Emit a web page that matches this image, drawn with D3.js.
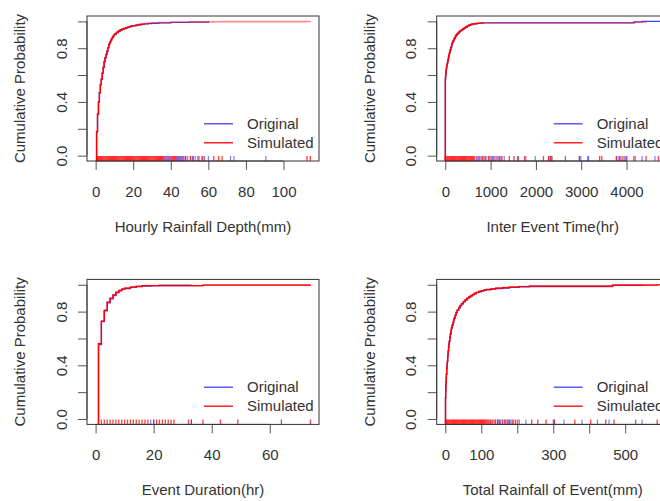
<!DOCTYPE html>
<html><head><meta charset="utf-8">
<script src="https://cdn.jsdelivr.net/npm/d3@7"></script>
<style>
body{margin:0;background:#fff}
svg{display:block}
text{font-family:"Liberation Sans",Arial,Helvetica,sans-serif}
</style>
</head><body>
<svg id="chart" width="660" height="501"></svg>
<script>
// ---------- shared ----------
const yTicks = [0, 0.2, 0.4, 0.6, 0.8, 1.0];
const yTickLabels = ["0.0", "", "0.4", "", "0.8", ""];
const yTitle = "Cumulative Probability";
const legendLabels = ["Original", "Simulated"];

// ---------- panel 1: hourly rainfall depth ----------
const depthTitle = "Hourly Rainfall Depth(mm)";
const depthDomain = [-4.6, 118.9];
const depthTicks = [0, 20, 40, 60, 80, 100];
const depthTickLabels = ["0", "20", "40", "60", "80", "100"];
const depthOrigX = [0.5,1,1.5,2,2.5,3,3.5,4,4.5,5,5.5,6,6.5,7,7.5,8,8.5,9,9.5,10,11,12,13,14,15,16,17,18,19,20,21.5,23,24.5,26,28,30,33.5,40,50,60];
const depthOrigP = [0.178,0.308,0.398,0.468,0.528,0.568,0.613,0.656,0.698,0.728,0.753,0.777,0.803,0.827,0.843,0.858,0.871,0.883,0.893,0.903,0.916,0.925,0.934,0.94,0.946,0.951,0.956,0.96,0.964,0.967,0.971,0.975,0.978,0.981,0.984,0.986,0.989,0.993,0.995,1.0];
const depthSimX = [0.5,1,1.5,2,2.5,3,3.5,4,4.5,5,5.5,6,6.5,7,7.5,8,8.5,9,9.5,10,11,12,13,14,15,16,17,18,19,20,21.5,23,24.5,26,28,30,33.5,40,50,62.9,67.3,112.5,114.3];
const depthSimP = [0.18,0.31,0.40,0.47,0.53,0.57,0.615,0.658,0.70,0.73,0.755,0.78,0.805,0.83,0.845,0.86,0.873,0.885,0.896,0.905,0.918,0.928,0.936,0.942,0.948,0.953,0.958,0.962,0.966,0.969,0.973,0.977,0.98,0.983,0.986,0.988,0.991,0.994,0.996,0.997,0.998,0.999,1.0];
const depthSimCoreEnd = 27;
const depthOrigRug = [36.5,37.5,38,39,40,40.5,41.5,42.5,43,44,45,45.5,46.5,47,47.7,49,50.4,51.5,53,55,56.5,58,60,71.8,73.6,90.6];
const depthSimRug = [0.5,1,1.5,2,2.5,3,3.5,4,4.5,5,5.5,6,6.5,7,7.5,8,8.5,9,9.5,10,10.5,11,11.5,12,12.5,13,13.5,14,14.5,15,15.5,16,16.5,17,17.5,18,18.5,19,19.5,20,20.5,21,21.5,22,22.5,23,23.5,24,24.5,25,25.5,26,26.5,27,27.5,28,28.5,29,29.5,30,30.5,31,31.5,32,32.5,33,33.5,34,34.5,35,35.5,36,37,38.5,39.5,41,42,43.5,44.5,46,48,50.5,52,54.5,57,62.9,65.5,67.3,112.5,114.3];

// ---------- panel 2: inter event time ----------
const ietTitle = "Inter Event Time(hr)";
const ietDomain = [-190, 4931];
const ietTicks = [0, 1000, 2000, 3000, 4000];
const ietTickLabels = ["0", "1000", "2000", "3000", "4000"];
const ietOrigX = [1,5,10,15,20,27,35,42,50,60,70,80,90,100,110,125,140,155,170,185,200,220,240,260,280,305,330,360,390,420,450,485,520,550,580,640,700,760,830,4160,4344,4900];
const ietOrigP = [0.567,0.588,0.607,0.626,0.642,0.658,0.672,0.686,0.697,0.716,0.732,0.748,0.762,0.776,0.787,0.808,0.827,0.841,0.852,0.863,0.872,0.886,0.897,0.906,0.913,0.922,0.93,0.937,0.944,0.951,0.958,0.964,0.97,0.975,0.979,0.982,0.985,0.987,0.989,0.996,1.0,1.0];
const ietSimX = [1,5,10,15,20,27,35,42,50,60,70,80,90,100,110,125,140,155,170,185,200,220,240,260,280,305,330,360,390,420,450,485,520,550,580,640,700,760,830,4197,4431];
const ietSimP = [0.57,0.59,0.61,0.628,0.645,0.66,0.675,0.688,0.70,0.718,0.735,0.75,0.765,0.778,0.79,0.81,0.83,0.843,0.855,0.865,0.875,0.888,0.90,0.908,0.915,0.924,0.932,0.939,0.946,0.953,0.96,0.966,0.972,0.976,0.98,0.983,0.986,0.988,0.99,0.995,1.0];
const ietSimCoreEnd = 830;
const ietOrigRug = [540,580,620,680,730,790,850,900,980,1040,1100,1170,1230,1300,1618,1780,1985,2285,2340,2359,2959,2992,3143,3161,3772,3830,3880,3960,4007,4160,4344,4628];
const ietSimRug = [1,20,40,60,80,100,120,140,160,180,200,220,240,260,280,300,320,340,360,380,400,420,440,460,480,500,520,560,600,640,700,760,820,880,950,1010,1070,1140,1200,1250,1413,1516,1597,1750,2167,2280,2320,2651,2959,3407,3454,3780,3850,3920,3990,4190,4431,4703];

// ---------- panel 3: event duration ----------
const durTitle = "Event Duration(hr)";
const durDomain = [-2.96, 76.96];
const durTicks = [0, 20, 40, 60];
const durTickLabels = ["0", "20", "40", "60"];
const durOrigX = [1,2,3,4,5,6,7,8,9,10,12,14,16,19,22,33];
const durOrigP = [0.555,0.725,0.805,0.865,0.895,0.92,0.94,0.955,0.965,0.972,0.98,0.986,0.991,0.994,0.998,1.0];
const durSimX = [1,2,3,4,5,6,7,8,9,10,12,14,16,37,74];
const durSimP = [0.562,0.73,0.81,0.87,0.9,0.925,0.945,0.958,0.968,0.975,0.983,0.988,0.993,0.998,1.0];
const durSimCoreEnd = 80;
const durOrigRug = [19,20,33];
const durSimRug = [2,3,4,5,6,7,8,9,10,11,12,13,14,15,16,17,18,20,21,22,23,24,25,26,27,32,33,37,43,49,64,74];

// ---------- panel 4: total rainfall of event ----------
const totTitle = "Total Rainfall of Event(mm)";
const totDomain = [-24, 621];
const totTicks = [0, 100, 200, 300, 400, 500, 600];
const totTickLabels = ["0", "100", "", "300", "", "500", ""];
const totOrigX = [0.5,1,1.5,2,2.5,3,4,5,5.5,6.5,7,8,9,10,11,12.5,14,15.5,17,19,21,23,25,27.5,30,33,37,41,45,50,55,60,65,70,75,80,86,93,100,107,114,127,140,160,178,205,234,465,547];
const totOrigP = [0.157,0.207,0.247,0.277,0.307,0.332,0.377,0.412,0.427,0.457,0.477,0.507,0.532,0.557,0.577,0.607,0.632,0.657,0.677,0.697,0.717,0.737,0.752,0.772,0.792,0.809,0.827,0.843,0.857,0.872,0.885,0.897,0.907,0.916,0.924,0.933,0.941,0.948,0.953,0.958,0.962,0.967,0.972,0.976,0.98,0.984,0.987,0.996,1.0];
const totSimX = [0.5,1,1.5,2,2.5,3,4,5,5.5,6.5,7,8,9,10,11,12.5,14,15.5,17,19,21,23,25,27.5,30,33,37,41,45,50,55,60,65,70,75,80,86,93,100,107,114,127,140,160,178,205,234,465,589,620];
const totSimP = [0.16,0.21,0.25,0.28,0.31,0.335,0.38,0.415,0.43,0.46,0.48,0.51,0.535,0.56,0.58,0.61,0.635,0.66,0.68,0.70,0.72,0.74,0.755,0.775,0.795,0.812,0.83,0.846,0.86,0.875,0.888,0.90,0.91,0.919,0.927,0.936,0.944,0.951,0.956,0.961,0.965,0.97,0.975,0.979,0.983,0.987,0.99,0.997,1.0,1.0];
const totSimCoreEnd = 700;
const totOrigRug = [133,140,147,153,160,168,175,182,190,200,224,300,303,330,380,423,455,547];
const totSimRug = [0.5,3,5.5,8,10.5,13,15.5,18,20.5,23,25.5,28,30.5,33,35.5,38,40.5,43,45.5,48,50.5,53,55.5,58,60.5,63,65.5,68,70.5,73,75.5,78,80.5,83,85.5,88,90.5,93,95.5,98,100.5,103,105.5,108,110.5,113,116,119,122,126,130,138,145,150,158,165,172,178,186,195,205,240,257,280,303,360,404,446,469,529,589];

// ---------- layout ----------
const svg = d3.select("#chart");
const BOX_W = 232, BOX_H = 145;
const FONT = 15;
const ORIG_COL = "rgba(0,0,255,0.75)";
const SIM_COL = "#ff0000";

const panels = [
  {title: depthTitle, domain: depthDomain, ticks: depthTicks, labels: depthTickLabels,
   ox: depthOrigX, op: depthOrigP, sx: depthSimX, sp: depthSimP, core: depthSimCoreEnd,
   orug: depthOrigRug, srug: depthSimRug, left: 87, top: 16},
  {title: ietTitle, domain: ietDomain, ticks: ietTicks, labels: ietTickLabels,
   ox: ietOrigX, op: ietOrigP, sx: ietSimX, sp: ietSimP, core: ietSimCoreEnd,
   orug: ietOrigRug, srug: ietSimRug, left: 436.7, top: 16},
  {title: durTitle, domain: durDomain, ticks: durTicks, labels: durTickLabels,
   ox: durOrigX, op: durOrigP, sx: durSimX, sp: durSimP, core: durSimCoreEnd,
   orug: durOrigRug, srug: durSimRug, left: 87, top: 279.4},
  {title: totTitle, domain: totDomain, ticks: totTicks, labels: totTickLabels,
   ox: totOrigX, op: totOrigP, sx: totSimX, sp: totSimP, core: totSimCoreEnd,
   orug: totOrigRug, srug: totSimRug, left: 436.7, top: 279.4}
];

panels.forEach((pn, idx) => {
  const L = pn.left, T = pn.top, B = T + BOX_H, R = L + BOX_W;
  const g = svg.append("g");
  const x = d3.scaleLinear().domain(pn.domain).range([L, R]);
  const y = d3.scaleLinear().domain([-0.04, 1.04]).range([B, T]);

  const cid = "clip" + idx;
  svg.append("clipPath").attr("id", cid).append("rect")
    .attr("x", L).attr("y", T).attr("width", BOX_W).attr("height", BOX_H);

  // y axis
  const ya = g.append("g").attr("transform", `translate(${L},0)`)
    .call(d3.axisLeft(y).tickValues(yTicks).tickSize(9).tickSizeOuter(0)
      .tickFormat((d, i) => yTickLabels[i]));
  ya.select(".domain").remove();
  ya.append("line").attr("x1", 0).attr("x2", 0).attr("y1", y(0)).attr("y2", y(1))
    .attr("stroke", "#555").attr("stroke-width", 1);
  ya.selectAll(".tick line").attr("stroke", "#555");
  ya.selectAll(".tick text")
    .attr("x", null).attr("dy", null)
    .attr("text-anchor", "middle")
    .attr("transform", "translate(-20.5,0) rotate(-90)")
    .attr("font-size", FONT).attr("font-family", '"Liberation Sans",Arial,sans-serif')
    .attr("fill", "#333");

  // x axis
  const xa = g.append("g").attr("transform", `translate(0,${B})`)
    .call(d3.axisBottom(x).tickValues(pn.ticks).tickSize(9).tickSizeOuter(0)
      .tickFormat((d, i) => pn.labels[i]));
  xa.select(".domain").remove();
  xa.append("line").attr("x1", x(pn.ticks[0])).attr("x2", x(pn.ticks[pn.ticks.length - 1]))
    .attr("y1", 0).attr("y2", 0).attr("stroke", "#555");
  xa.selectAll(".tick line").attr("stroke", "#555");
  xa.selectAll(".tick text")
    .attr("y", 35.5).attr("dy", null)
    .attr("font-size", FONT).attr("font-family", '"Liberation Sans",Arial,sans-serif')
    .attr("fill", "#333");

  // titles
  g.append("text").attr("x", (L + R) / 2).attr("y", B + 71)
    .attr("text-anchor", "middle").attr("font-size", FONT).attr("fill", "#333")
    .text(pn.title);
  g.append("text")
    .attr("transform", `translate(${L - 62},${(T + B) / 2}) rotate(-90)`)
    .attr("text-anchor", "middle").attr("font-size", FONT).attr("fill", "#333")
    .text(yTitle);

  // curves
  const cg = g.append("g").attr("clip-path", `url(#${cid})`);
  const line = d3.line().x(d => x(d[0])).y(d => y(d[1])).curve(d3.curveStepAfter);
  const pts = (xs, ps) => [[xs[0], -0.04]].concat(xs.map((v, i) => [v, ps[i]]));
  const oPts = pts(pn.ox, pn.op);
  const sPts = pts(pn.sx, pn.sp);
  cg.append("path").attr("d", line(oPts)).attr("fill", "none")
    .attr("stroke", ORIG_COL).attr("stroke-width", 1.3);
  cg.append("path").attr("d", line(sPts)).attr("fill", "none")
    .attr("stroke", SIM_COL).attr("stroke-opacity", 0.45).attr("stroke-width", 1.6);
  const core = sPts.filter(d => d[0] <= pn.core);
  cg.append("path").attr("d", line(core)).attr("fill", "none")
    .attr("stroke", SIM_COL).attr("stroke-width", 1.2);

  // rugs
  const rugLen = 5;
  cg.selectAll(".orug").data(pn.orug).enter().append("line")
    .attr("x1", d => x(d)).attr("x2", d => x(d))
    .attr("y1", B).attr("y2", B - rugLen)
    .attr("stroke", "rgba(0,0,255,0.55)").attr("stroke-width", 1.1);
  cg.selectAll(".srug").data(pn.srug).enter().append("line")
    .attr("x1", d => x(d)).attr("x2", d => x(d))
    .attr("y1", B).attr("y2", B - rugLen)
    .attr("stroke", "rgba(255,0,0,0.75)").attr("stroke-width", 1.3);

  // box
  g.append("rect").attr("x", L).attr("y", T).attr("width", BOX_W).attr("height", BOX_H)
    .attr("fill", "none").attr("stroke", "#333").attr("stroke-width", 1);

  // legend
  const cols = [ORIG_COL, SIM_COL];
  legendLabels.forEach((lab, i) => {
    const ly = T + 107.8 + i * 19;
    g.append("line").attr("x1", L + 117).attr("x2", L + 146).attr("y1", ly).attr("y2", ly)
      .attr("stroke", cols[i]).attr("stroke-width", 1.3);
    g.append("text").attr("x", L + 160).attr("y", ly + 5.2)
      .attr("font-size", FONT).attr("fill", "#333").text(lab);
  });
});
</script>
</body></html>
